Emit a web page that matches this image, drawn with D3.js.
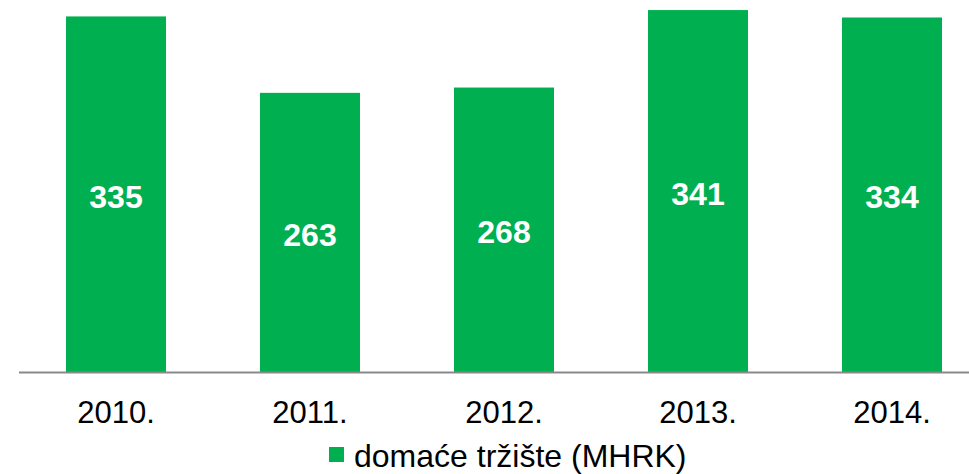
<!DOCTYPE html>
<html>
<head>
<meta charset="utf-8">
<script src="https://cdn.jsdelivr.net/npm/d3@7"></script>
<style>
  body { margin: 0; background: #fff; }
  svg { display: block; font-family: "Liberation Sans", Arial, sans-serif; }
</style>
</head>
<body>
<svg id="chart" width="969" height="474"></svg>
<script>
var years = ["2010.", "2011.", "2012.", "2013.", "2014."];
var values = [335, 263, 268, 341, 334];
var seriesName = "domaće tržište (MHRK)";

var svg = d3.select("#chart");
var green = "#00B050";

var x = d3.scaleBand()
  .domain(years)
  .range([19, 989])
  .paddingInner(0.4845)
  .paddingOuter(0.2423);

var y = d3.scaleLinear()
  .domain([0, 350])
  .range([372, 0.5]);

// bars
svg.selectAll("rect.bar")
  .data(values)
  .enter().append("rect")
  .attr("class", "bar")
  .attr("x", function(d, i) { return x(years[i]); })
  .attr("y", function(d) { return y(d); })
  .attr("width", x.bandwidth())
  .attr("height", function(d) { return y(0) - y(d); })
  .style("fill", green);

// value labels
svg.selectAll("text.val")
  .data(values)
  .enter().append("text")
  .attr("class", "val")
  .attr("x", function(d, i) { return x(years[i]) + x.bandwidth() / 2; })
  .attr("y", function(d) { return (y(d) + y(0)) / 2 + 2.5; })
  .attr("text-anchor", "middle")
  .attr("dominant-baseline", "central")
  .style("font-size", "32px")
  .style("font-weight", "bold")
  .style("fill", "#fff")
  .text(function(d) { return d; });

// x axis
var xAxis = svg.append("g")
  .attr("transform", "translate(0," + y(0) + ")")
  .call(d3.axisBottom(x).tickSize(0).tickPadding(0));
xAxis.select(".domain")
  .attr("d", "M19,0.5H969")
  .style("stroke", "#898989")
  .style("stroke-width", 2);
xAxis.selectAll("text")
  .attr("y", 51)
  .attr("dy", 0)
  .style("font-size", "31px")
  .style("font-family", "'Liberation Sans', Arial, sans-serif")
  .style("fill", "#000");

// legend
var legend = svg.append("g");
legend.append("rect")
  .attr("x", 329)
  .attr("y", 447)
  .attr("width", 15)
  .attr("height", 15)
  .style("fill", green);
legend.append("text")
  .attr("x", 354)
  .attr("y", 467)
  .style("font-size", "32px")
  .style("fill", "#000")
  .text(seriesName);
</script>
</body>
</html>
